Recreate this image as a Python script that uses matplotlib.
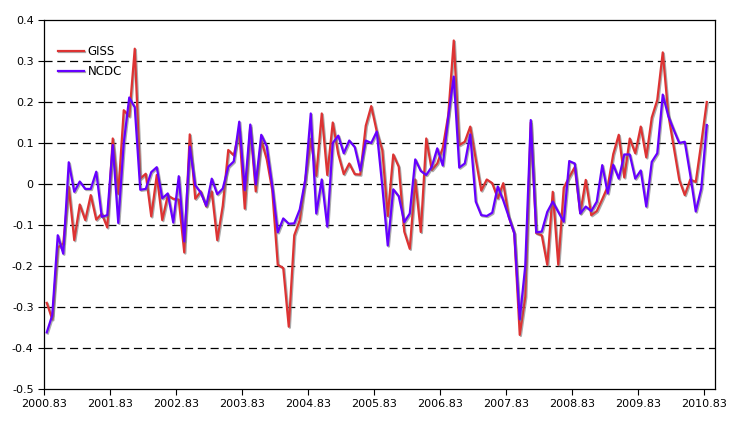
import numpy as np
import matplotlib
matplotlib.use("Agg")
import matplotlib.pyplot as plt
import matplotlib.patheffects as pe

# monthly anomalies, Nov 2000 .. Nov 2010
start = 2000 + 10.5 / 12
giss = [-0.29, -0.33, -0.155, -0.145, -0.007, -0.137, -0.05, -0.088, -0.027, -0.087,
        -0.072, -0.106, 0.111, -0.024, 0.18, 0.165, 0.33, 0.013, 0.025, -0.079,
        0.022, -0.088, -0.028, -0.036, -0.038, -0.167, 0.121, -0.036, -0.018, -0.055,
        -0.018, -0.137, -0.053, 0.083, 0.07, 0.13, -0.06, 0.14, -0.018, 0.107,
        0.06, -0.015, -0.197, -0.205, -0.348, -0.125, -0.088, 0.01, 0.11, 0.02,
        0.172, 0.022, 0.15, 0.073, 0.024, 0.05, 0.024, 0.023, 0.142, 0.19,
        0.128, 0.083, -0.078, 0.072, 0.042, -0.116, -0.158, 0.011, -0.117, 0.111,
        0.034, 0.05, 0.088, 0.168, 0.35, 0.095, 0.103, 0.14, 0.06, -0.016,
        0.011, 0.002, -0.035, 0.002, -0.08, -0.12, -0.368, -0.275, 0.15, -0.12,
        -0.125, -0.197, -0.019, -0.197, -0.009, 0.017, 0.041, -0.071, 0.01, -0.076,
        -0.066, -0.037, -0.006, 0.073, 0.12, 0.016, 0.111, 0.075, 0.14, 0.065,
        0.162, 0.205, 0.321, 0.17, 0.09, 0.01, -0.027, 0.011, 0.005, 0.1,
        0.2]
ncdc = [-0.362, -0.32, -0.125, -0.17, 0.053, -0.019, 0.006, -0.012, -0.012, 0.03,
        -0.08, -0.076, 0.095, -0.095, 0.1, 0.211, 0.187, -0.014, -0.012, 0.029,
        0.041, -0.035, -0.023, -0.094, 0.019, -0.14, 0.091, -0.003, -0.021, -0.053,
        0.013, -0.025, -0.011, 0.042, 0.055, 0.152, -0.015, 0.145, -0.001, 0.12,
        0.092, -0.005, -0.118, -0.084, -0.097, -0.096, -0.062, 0.01, 0.172, -0.072,
        0.011, -0.104, 0.1, 0.118, 0.075, 0.106, 0.09, 0.033, 0.106, 0.1,
        0.128, -0.005, -0.15, -0.013, -0.03, -0.093, -0.072, 0.06, 0.032, 0.022,
        0.042, 0.087, 0.045, 0.164, 0.262, 0.04, 0.05, 0.121, -0.043, -0.076,
        -0.078, -0.07, -0.006, -0.04, -0.08, -0.12, -0.33, -0.2, 0.156, -0.118,
        -0.116, -0.068, -0.043, -0.068, -0.092, 0.056, 0.05, -0.072, -0.055, -0.066,
        -0.043, 0.046, -0.023, 0.047, 0.013, 0.072, 0.072, 0.013, 0.033, -0.055,
        0.054, 0.075, 0.218, 0.166, 0.132, 0.1, 0.103, 0.022, -0.067, -0.011,
        0.144]
x = start + np.arange(len(giss)) / 12

xticks = 2000 + 10 / 12 + np.arange(11)
xlabels = ["%.2f" % (2000.83 + k) for k in range(11)]
yticks = np.round(np.arange(-0.5, 0.41, 0.1), 1)
ylabels = ["0" if v == 0 else "%g" % v for v in yticks]

plt.rcParams["font.family"] = ["DejaVu Sans"]
plt.rcParams["lines.scale_dashes"] = False

fig = plt.figure(figsize=(7.37, 4.23), dpi=100)
ax = fig.add_axes([44 / 737, 1 - 389 / 423, (715 - 44) / 737, (389 - 20) / 423])

shadow = [pe.SimpleLineShadow(offset=(0.8, -0.8), shadow_color="0.45", alpha=0.6), pe.Normal()]
ax.plot(x, giss, color="#DD3333", lw=1.6, label="GISS", path_effects=shadow)
ax.plot(x, ncdc, color="#6600FF", lw=1.6, label="NCDC", path_effects=shadow)

for v in yticks[1:-1]:
    ax.axhline(v, color="black", lw=0.9, dashes=(5.8, 3.4), zorder=0)

ax.set_xlim(2000 + 10 / 12, 2011.0)
ax.set_ylim(-0.5, 0.4)
ax.set_xticks(xticks)
ax.set_xticklabels(xlabels)
ax.set_yticks(yticks)
ax.set_yticklabels(ylabels)
ax.tick_params(labelsize=8, length=4, width=0.8, direction="out", colors="black")
for s in ax.spines.values():
    s.set_linewidth(0.9)

leg = ax.legend(loc="upper left", bbox_to_anchor=(0.005, 0.96), frameon=False,
                fontsize=8.5, handlelength=2.2, handletextpad=0.3, labelspacing=0.55)

fig.savefig("out.png", dpi=100)
